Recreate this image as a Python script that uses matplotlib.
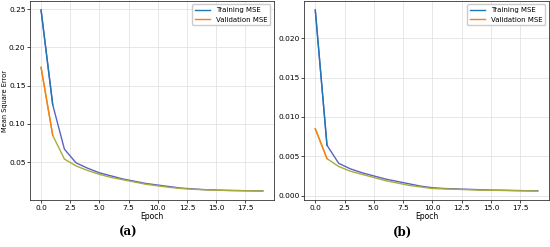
import matplotlib.pyplot as plt
from matplotlib.lines import Line2D
import numpy as np

epochs = np.arange(20)

# (a)
train_a = [0.249, 0.125, 0.067, 0.049, 0.042, 0.036, 0.032, 0.028, 0.025, 0.022,
           0.020, 0.018, 0.016, 0.015, 0.014, 0.0135, 0.013, 0.0128, 0.0125, 0.0123]
val_a = [0.174, 0.085, 0.054, 0.045, 0.039, 0.034, 0.030, 0.027, 0.024, 0.021,
         0.019, 0.017, 0.0155, 0.0145, 0.0138, 0.0133, 0.0129, 0.0126, 0.0124, 0.0122]

# (b)
train_b = [0.0236, 0.0064, 0.0041, 0.0034, 0.0029, 0.0025, 0.0021, 0.0018, 0.0015, 0.0012,
           0.0010, 0.0009, 0.00085, 0.0008, 0.00075, 0.0007, 0.00068, 0.00065, 0.00062, 0.0006]
val_b = [0.0085, 0.0047, 0.0037, 0.0031, 0.0027, 0.0023, 0.0019, 0.0016, 0.0013, 0.0011,
         0.0009, 0.00085, 0.0008, 0.00075, 0.0007, 0.00068, 0.00065, 0.00062, 0.0006, 0.00058]

plt.rcParams['font.family'] = 'DejaVu Sans'
plt.rcParams['font.size'] = 5.5

fig = plt.figure(figsize=(5.5, 2.47), dpi=100)
ax1 = fig.add_axes([0.0545, 0.19, 0.4435, 0.806])
ax2 = fig.add_axes([0.553, 0.19, 0.445, 0.806])

train_col = '#5a62c4'
val_col = '#a9ab3a'

for ax, tr, va in [(ax1, train_a, val_a), (ax2, train_b, val_b)]:
    ax.plot(epochs, tr, color=train_col, lw=1.0)
    ax.plot(epochs, va, color=val_col, lw=1.0)
    ax.plot(epochs[:2], tr[:2], color='#1f77b4', lw=1.0)
    ax.plot(epochs[:2], va[:2], color='#ff7f0e', lw=1.0)
    ax.grid(True, color='#dddddd', lw=0.5)
    ax.set_xlabel('Epoch', labelpad=1, fontsize=5.5)
    ax.tick_params(labelsize=5.3, length=2, width=0.5, pad=1.2)
    for s in ax.spines.values():
        s.set_linewidth(0.6)
        s.set_color('#333333')
    handles = [Line2D([], [], color='#1f77b4', lw=1), Line2D([], [], color='#ff7f0e', lw=1)]
    ax.legend(handles, ['Training MSE', 'Validation MSE'], loc='upper right',
              fontsize=5, framealpha=1, edgecolor='#cccccc', handlelength=2.2)

ax1.set_ylabel('Mean Square Error', labelpad=1, fontsize=4.8)

fig.text(0.233, 0.06, '(a)', fontsize=8.5, fontweight='bold', family='DejaVu Serif',
         ha='center', va='center')
fig.text(0.731, 0.06, '(b)', fontsize=8.5, fontweight='bold', family='DejaVu Serif',
         ha='center', va='center')

fig.savefig('out.png', dpi=100)
